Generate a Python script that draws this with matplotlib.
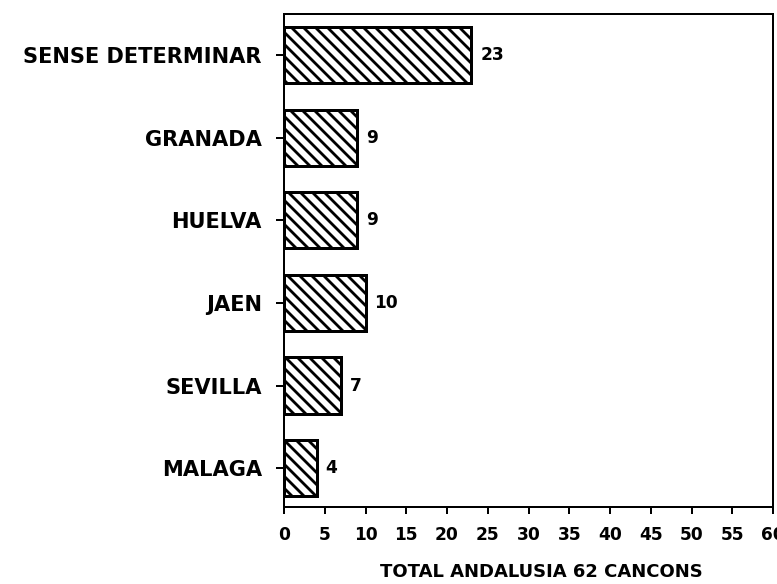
import matplotlib
matplotlib.use("Agg")
import matplotlib.pyplot as plt

# data (bottom to top)
provinces = ["MALAGA", "SEVILLA", "JAEN", "HUELVA", "GRANADA", "SENSE DETERMINAR"]
songs = [4, 7, 10, 9, 9, 23]
xticks = list(range(0, 61, 5))
xlabel = "TOTAL ANDALUSIA 62 CANCONS"

plt.rcParams["font.family"] = "DejaVu Sans"
plt.rcParams["font.weight"] = "bold"
plt.rcParams["hatch.linewidth"] = 2.8
plt.rcParams["hatch.color"] = "black"

DPI = 72
fig = plt.figure(figsize=(777 / DPI, 584 / DPI), dpi=DPI)
ax = fig.add_axes([0.3655, 0.132, 0.6295, 0.844])

pos = list(range(len(provinces)))
ax.barh(pos, songs, height=0.68, facecolor="white", edgecolor="black",
        linewidth=3, hatch="\\\\")

for y, v in zip(pos, songs):
    ax.text(v + 1.1, y, str(v), va="center", ha="left",
            fontsize=17, fontweight="heavy")

ax.set_xlim(0, 60)
ax.set_ylim(-0.47, 5.5)
ax.set_xticks(xticks)
ax.set_yticks(pos)
ax.set_yticklabels(provinces, fontsize=21, fontweight="heavy")
ax.set_xticklabels([str(t) for t in xticks], fontsize=17, fontweight="heavy")
ax.set_xlabel(xlabel, fontsize=18, fontweight="heavy")
ax.xaxis.set_label_coords(0.526, -0.114)

for s in ax.spines.values():
    s.set_linewidth(2)
ax.tick_params(axis="y", length=8, width=2, pad=14)
ax.tick_params(axis="x", length=7, width=2, pad=12)

fig.savefig("out.png", dpi=DPI)
